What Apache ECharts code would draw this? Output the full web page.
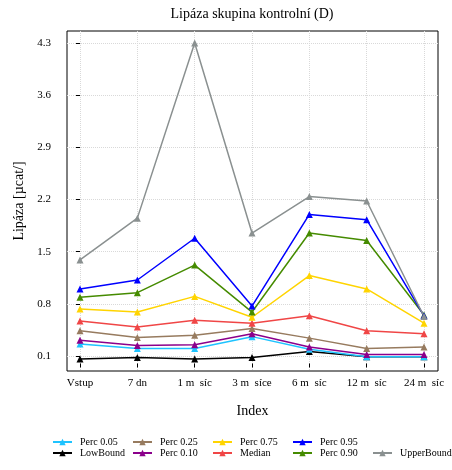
<!DOCTYPE html>
<html>
<head>
<meta charset="utf-8">
<script src="https://cdn.jsdelivr.net/npm/echarts@6/dist/echarts.min.js"></script>
<style>html,body{margin:0;padding:0;background:#fff;}#c{width:452px;height:470px;}</style>
</head>
<body>
<div id="c"></div>
<script>
const categories = ['Vstup', '7 dn', '1 m  síc', '3 m  síce', '6 m  síc', '12 m  síc', '24 m  síc'];
const yTicks = [0.1, 0.8, 1.5, 2.2, 2.9, 3.6, 4.3];

const lowBound   = [0.06, 0.08, 0.06, 0.08, 0.16, 0.09, 0.09];
const perc05     = [0.26, 0.20, 0.20, 0.36, 0.19, 0.09, 0.09];
const perc10     = [0.31, 0.24, 0.25, 0.40, 0.22, 0.12, 0.12];
const perc25     = [0.44, 0.35, 0.38, 0.47, 0.34, 0.20, 0.22];
const median     = [0.57, 0.49, 0.58, 0.54, 0.64, 0.44, 0.40];
const perc75     = [0.73, 0.69, 0.90, 0.62, 1.18, 1.00, 0.54];
const perc90     = [0.89, 0.95, 1.32, 0.69, 1.75, 1.65, 0.65];
const perc95     = [1.00, 1.12, 1.68, 0.77, 2.00, 1.93, 0.64];
const upperBound = [1.39, 1.95, 4.30, 1.75, 2.24, 2.18, 0.63];

const seriesDefs = [
  {name: 'LowBound',   data: lowBound,   color: '#000000'},
  {name: 'Perc 0.05',  data: perc05,     color: '#1EC3FF'},
  {name: 'Perc 0.10',  data: perc10,     color: '#8B008B'},
  {name: 'Perc 0.25',  data: perc25,     color: '#977B5F'},
  {name: 'Median',     data: median,     color: '#F04646'},
  {name: 'Perc 0.75',  data: perc75,     color: '#FFD400'},
  {name: 'Perc 0.90',  data: perc90,     color: '#458B00'},
  {name: 'Perc 0.95',  data: perc95,     color: '#0000FF'},
  {name: 'UpperBound', data: upperBound, color: '#8A9090'}
];

// legend layout: [name, column, row]
const legendLayout = [
  ['Perc 0.05', 0, 0], ['LowBound', 0, 1],
  ['Perc 0.25', 1, 0], ['Perc 0.10', 1, 1],
  ['Perc 0.75', 2, 0], ['Median', 2, 1],
  ['Perc 0.95', 3, 0], ['Perc 0.90', 3, 1],
  ['UpperBound', 4, 1]
];

const serif = '"Liberation Serif", "DejaVu Serif", serif';

const chart = echarts.init(document.getElementById('c'), null, {renderer: 'canvas'});

const legends = legendLayout.map(([name, col, row]) => ({
  data: [name],
  left: 52 + col * 80,
  top: 437 + row * 11,
  itemWidth: 19,
  itemHeight: 8,
  padding: 0,
  selectedMode: false,
  textStyle: {fontFamily: serif, fontSize: 10, color: '#000', padding: [0, 0, 0, 3]}
}));

chart.setOption({
  animation: false,
  backgroundColor: '#fff',
  title: {
    text: 'Lipáza skupina kontrolní (D)',
    left: 252, top: 7, padding: 0,
    textAlign: 'center',
    textStyle: {fontFamily: serif, fontSize: 14, fontWeight: 'normal', color: '#000'}
  },
  legend: legends,
  grid: {
    left: 67, top: 31, right: 14, bottom: 99,
    show: true, borderColor: '#000', borderWidth: 1, backgroundColor: 'transparent'
  },
  xAxis: {
    type: 'value',
    min: -0.227, max: 6.244,
    name: 'Index', nameLocation: 'middle', nameGap: 33,
    nameTextStyle: {fontFamily: serif, fontSize: 14, color: '#000'},
    axisLine: {show: false},
    axisTick: {show: true, length: 4, lineStyle: {color: '#000'}, customValues: categories.map((c, i) => i)},
    axisLabel: {
      customValues: categories.map((c, i) => i),
      formatter: v => categories[Math.round(v)] ?? '',
      fontFamily: serif, fontSize: 11, color: '#000', margin: 7
    },
    splitLine: {show: true, lineStyle: {color: '#d9d9d9', type: 'dotted', width: 1}}
  },
  yAxis: {
    type: 'value',
    min: -0.101, max: 4.461,
    name: 'Lipáza [µcat/]', nameLocation: 'middle', nameGap: 38, nameRotate: 90,
    nameTextStyle: {fontFamily: serif, fontSize: 14, color: '#000'},
    axisLine: {show: false},
    axisTick: {show: true, length: 4, lineStyle: {color: '#000'}, customValues: yTicks},
    axisLabel: {
      customValues: yTicks,
      formatter: v => v.toFixed(1),
      fontFamily: serif, fontSize: 11, color: '#000', margin: 16
    },
    splitLine: {show: true, lineStyle: {color: '#d9d9d9', type: 'dotted', width: 1}}
  },
  series: seriesDefs.map(s => ({
    name: s.name,
    type: 'line',
    data: s.data.map((v, i) => [i, v]),
    symbol: 'triangle',
    symbolSize: 7,
    showSymbol: true,
    color: s.color,
    lineStyle: {width: 1.5, color: s.color},
    itemStyle: {color: s.color}
  }))
});
</script>
</body>
</html>
